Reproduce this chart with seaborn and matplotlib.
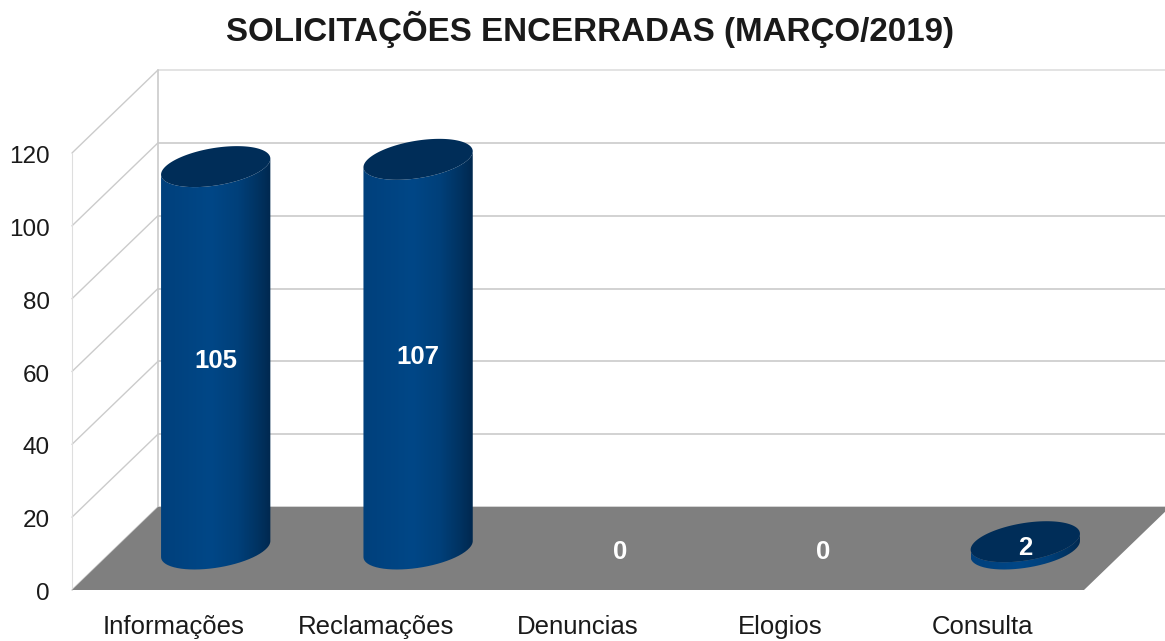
import numpy as np
import matplotlib
matplotlib.use("Agg")
import matplotlib.pyplot as plt
from matplotlib.colors import LinearSegmentedColormap
from matplotlib.patches import PathPatch, Polygon
from matplotlib.path import Path
from matplotlib.transforms import ScaledTranslation
import seaborn as sns

# ========== DATA ==========
categories = ["Informações", "Reclamações", "Denuncias", "Elogios", "Consulta"]
values = [105, 107, 0, 0, 2]
y_ticks = [0, 20, 40, 60, 80, 100, 120]
title = "SOLICITAÇÕES ENCERRADAS (MARÇO/2019)"

# ========== LAYOUT (pixels of the 1165x641 picture) ==========
W, H = 1165, 641
LEFT, RIGHT, BOTTOM, TOP = 72, 1084, 590, 153
PX_X = (RIGHT - LEFT) / 5      # pixels per category
PX_Y = (BOTTOM - TOP) / 120    # pixels per value unit
DEPTH_X = 86 / PX_X
DEPTH_Y = 83 / PX_Y
SHIFT_X = 42.5 / PX_X          # cylinders stand mid depth
SHIFT_Y = 41 / PX_Y

GRID = "#cbcbcb"
WALL = "#dedede"
FLOOR = "#7f7f7f"
TOP_FACE = "#002d58"
body_cmap = LinearSegmentedColormap.from_list(
    "body", [(0, "#00407c"), (0.45, "#004787"), (0.7, "#00407a"), (0.88, "#003362"), (1, "#00284f")])

sns.set_theme(style="white")
plt.rcParams["font.family"] = ["Liberation Sans", "DejaVu Sans"]

fig = plt.figure(figsize=(W / 100, H / 100), dpi=100)
ax = fig.add_axes([LEFT / W, 1 - BOTTOM / H, (RIGHT - LEFT) / W, (BOTTOM - TOP) / H])

sns.barplot(x=categories, y=values, width=0.54, color="#004586", ax=ax, zorder=4)


def ellipse(cx, cy, half_w, t):
    # tilted ellipse: a circle on the floor seen in the chart's oblique view, in data units
    c_px = 20.5
    b_px = c_px * 86 / 83
    a_px = np.sqrt(half_w ** 2 - b_px ** 2)
    return cx + (a_px * np.cos(t) + b_px * np.sin(t)) / PX_X, cy + c_px * np.sin(t) / PX_Y


def draw_cylinder(bar):
    half_w = bar.get_width() * PX_X / 2
    cx = bar.get_x() + bar.get_width() / 2 + SHIFT_X
    base = SHIFT_Y
    top = bar.get_height() + SHIFT_Y

    b_px = 20.5 * 86 / 83
    t0 = np.arctan2(b_px, np.sqrt(half_w ** 2 - b_px ** 2))  # right-hand silhouette point
    t = np.linspace(t0 - np.pi, t0 + np.pi, 200)

    # side wall: lower half of the base ellipse, closed through the lower half of the top ellipse
    low = np.linspace(t0 - np.pi, t0, 100)
    xb, yb = ellipse(cx, base, half_w, low)
    xt, yt = ellipse(cx, top, half_w, low[::-1])
    verts = np.column_stack([np.r_[xb, xt], np.r_[yb, yt]])
    clip = PathPatch(Path(np.vstack([verts, verts[0]])), transform=ax.transData)
    im = ax.imshow(np.linspace(0, 1, 256).reshape(1, -1), cmap=body_cmap, aspect="auto",
                   extent=[cx - half_w / PX_X, cx + half_w / PX_X, base - 25, top + 25], zorder=4)
    im.set_clip_path(clip)

    xe, ye = ellipse(cx, top, half_w, t)
    ax.fill(xe, ye, color=TOP_FACE, lw=0, zorder=5, clip_on=False)


# walls and gridlines behind the cylinders
for tick in y_ticks:
    back = tick + DEPTH_Y
    ax.plot([-0.5 + DEPTH_X, 4.5 + DEPTH_X], [back, back], color=GRID if tick < 120 else WALL,
            lw=1.2, clip_on=False, zorder=1)
    ax.plot([-0.5, -0.5 + DEPTH_X], [tick, back], color=GRID, lw=1.0, clip_on=False, zorder=1)
ax.plot([-0.5, -0.5], [0, 120], color=WALL, lw=0.8, clip_on=False, zorder=1)
ax.plot([-0.5 + DEPTH_X] * 2, [DEPTH_Y, 120 + DEPTH_Y], color=GRID, lw=1.2, clip_on=False, zorder=1)

ax.add_patch(Polygon([(-0.5, 0), (4.5, 0), (4.5 + DEPTH_X, DEPTH_Y), (-0.5 + DEPTH_X, DEPTH_Y)],
                     closed=True, facecolor=FLOOR, edgecolor="none", clip_on=False, zorder=2))

for bar, value in zip(list(ax.patches)[:len(values)], values):
    if value > 0:
        draw_cylinder(bar)
    bar.set_visible(False)
    ax.text(bar.get_x() + bar.get_width() / 2 + SHIFT_X, value / 2 + SHIFT_Y - 3 / PX_Y, str(value),
            color="white", fontsize=18.5, fontweight="bold", ha="center", va="center", zorder=6)

ax.set_xlim(-0.5, 4.5)
ax.set_ylim(0, 120)
ax.set_yticks(y_ticks)
ax.tick_params(axis="y", length=0, pad=16, labelsize=17.5, colors="#1a1a1a")
ax.tick_params(axis="x", length=0, pad=18, labelsize=18.5, colors="#1a1a1a")
# tick labels sit a little lower than matplotlib centres them
nudge = ScaledTranslation(0, -1.5 / 100, fig.dpi_scale_trans)
for label in ax.get_yticklabels():
    label.set_transform(label.get_transform() + nudge)
ax.set_xlabel("")
ax.set_ylabel("")
sns.despine(ax=ax, left=True, bottom=True)
ax.patch.set_alpha(0)

fig.suptitle(title, x=590 / W, y=1 - 29 / H, va="center", fontsize=23.9, fontweight="bold", color="#1a1a1a")

plt.savefig("out.png", dpi=100)
plt.close()
